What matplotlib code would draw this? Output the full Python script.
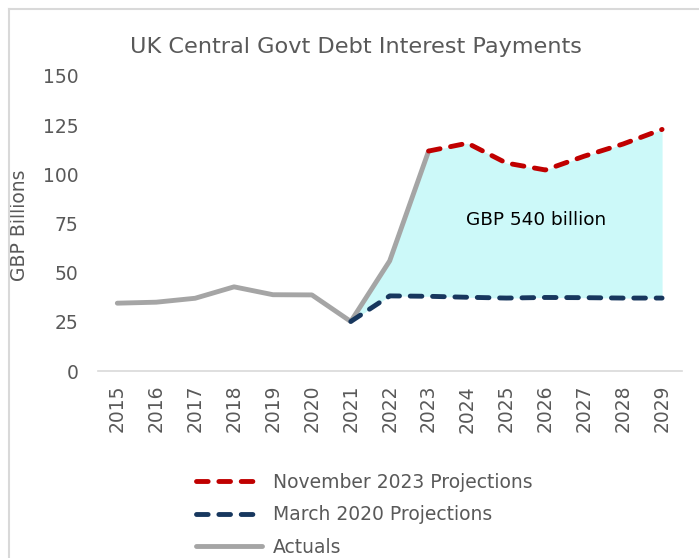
import matplotlib
matplotlib.use("Agg")
import matplotlib.pyplot as plt
from matplotlib.lines import Line2D

# Fiscal years and series values (GBP billions)
years = ["2015", "2016", "2017", "2018", "2019", "2020", "2021", "2022",
         "2023", "2024", "2025", "2026", "2027", "2028", "2029"]
actuals = [34.5, 35.0, 37.0, 42.8, 38.8, 38.7, 25.2, 56.0, 111.8]          # 2015-2023
nov2023_proj = [111.8, 115.8, 105.7, 102.2, 109.2, 115.4, 122.8]           # 2023-2029
mar2020_proj = [25.2, 38.2, 38.0, 37.5, 37.1, 37.4, 37.3, 37.1, 37.1]      # 2021-2029
gap_label = "GBP 540 billion"

TEXT = "#595959"
RED = "#C00000"
NAVY = "#17375E"
GREY = "#A5A5A5"
FILL = "#CCF9F9"
BORDER = "#D9D9D9"

plt.rcParams["font.family"] = ["DejaVu Sans"]

W, H = 699, 558
fig = plt.figure(figsize=(W / 100, H / 100), dpi=100)
ax = fig.add_axes([0.140, 0.335, 0.835, 0.529])

x_all = list(range(len(years)))
x_act = x_all[:len(actuals)]
x_nov = x_all[len(years) - len(nov2023_proj):]
x_mar = x_all[len(years) - len(mar2020_proj):]

# shaded gap between the newer path (actuals then Nov-2023 projections) and the Mar-2020 path
start = x_mar[0]
upper = actuals[start:] + nov2023_proj[len(actuals) - x_nov[0]:]
ax.fill_between(x_mar, mar2020_proj, upper, color=FILL, linewidth=0, zorder=1)

lw = 3.5
dash = (2.4, 2.2)
ax.plot(x_act, actuals, color=GREY, lw=lw, solid_joinstyle="round",
        solid_capstyle="round", zorder=3)
ax.plot(x_nov, nov2023_proj, color=RED, lw=lw, dashes=dash,
        dash_capstyle="round", dash_joinstyle="round", zorder=4)
ax.plot(x_mar, mar2020_proj, color=NAVY, lw=lw, dashes=dash,
        dash_capstyle="round", dash_joinstyle="round", zorder=4)

ax.text(10.76, 76.8, gap_label, ha="center", va="center", fontsize=13.3,
        color="black", zorder=5)

ax.set_xlim(-0.5, len(years) - 0.5)
ax.set_ylim(0, 150)
ax.set_yticks([0, 25, 50, 75, 100, 125, 150])
ax.set_xticks(x_all)
ax.set_xticklabels(years, rotation=90)
ax.tick_params(axis="both", length=0, labelsize=13.5, labelcolor=TEXT)
ax.tick_params(axis="y", pad=14)
ax.tick_params(axis="x", pad=10)
for side in ("top", "right", "left"):
    ax.spines[side].set_visible(False)
ax.spines["bottom"].set_color(BORDER)
ax.spines["bottom"].set_linewidth(1.2)

ax.set_ylabel("GBP Billions", fontsize=13.5, color=TEXT)
ax.yaxis.set_label_coords(29 / W, 1 - 225 / H, transform=fig.transFigure)

fig.text(356 / W, 1 - 47 / H, "UK Central Govt Debt Interest Payments",
         ha="center", va="center", fontsize=16.1, color=TEXT)

handles = [
    Line2D([], [], color=RED, lw=lw, dashes=dash, dash_capstyle="round"),
    Line2D([], [], color=NAVY, lw=lw, dashes=dash, dash_capstyle="round"),
    Line2D([], [], color=GREY, lw=lw, solid_capstyle="round"),
]
labels = ["November 2023 Projections", "March 2020 Projections", "Actuals"]
leg = fig.legend(handles, labels, loc="center left",
                 bbox_to_anchor=(196 / W, 1 - 515 / H),
                 frameon=False, fontsize=13.5, handlelength=3.5,
                 handletextpad=0.59, labelspacing=0.72, borderpad=0,
                 borderaxespad=0)
for t in leg.get_texts():
    t.set_color(TEXT)

# chart-area border (top and left edges)
fig.add_artist(Line2D([9 / W, 1.01], [1 - 9 / H, 1 - 9 / H],
                      transform=fig.transFigure, color=BORDER, lw=1.5))
fig.add_artist(Line2D([9 / W, 9 / W], [-0.01, 1 - 9 / H],
                      transform=fig.transFigure, color=BORDER, lw=1.5))

fig.savefig("out.png", dpi=100)
